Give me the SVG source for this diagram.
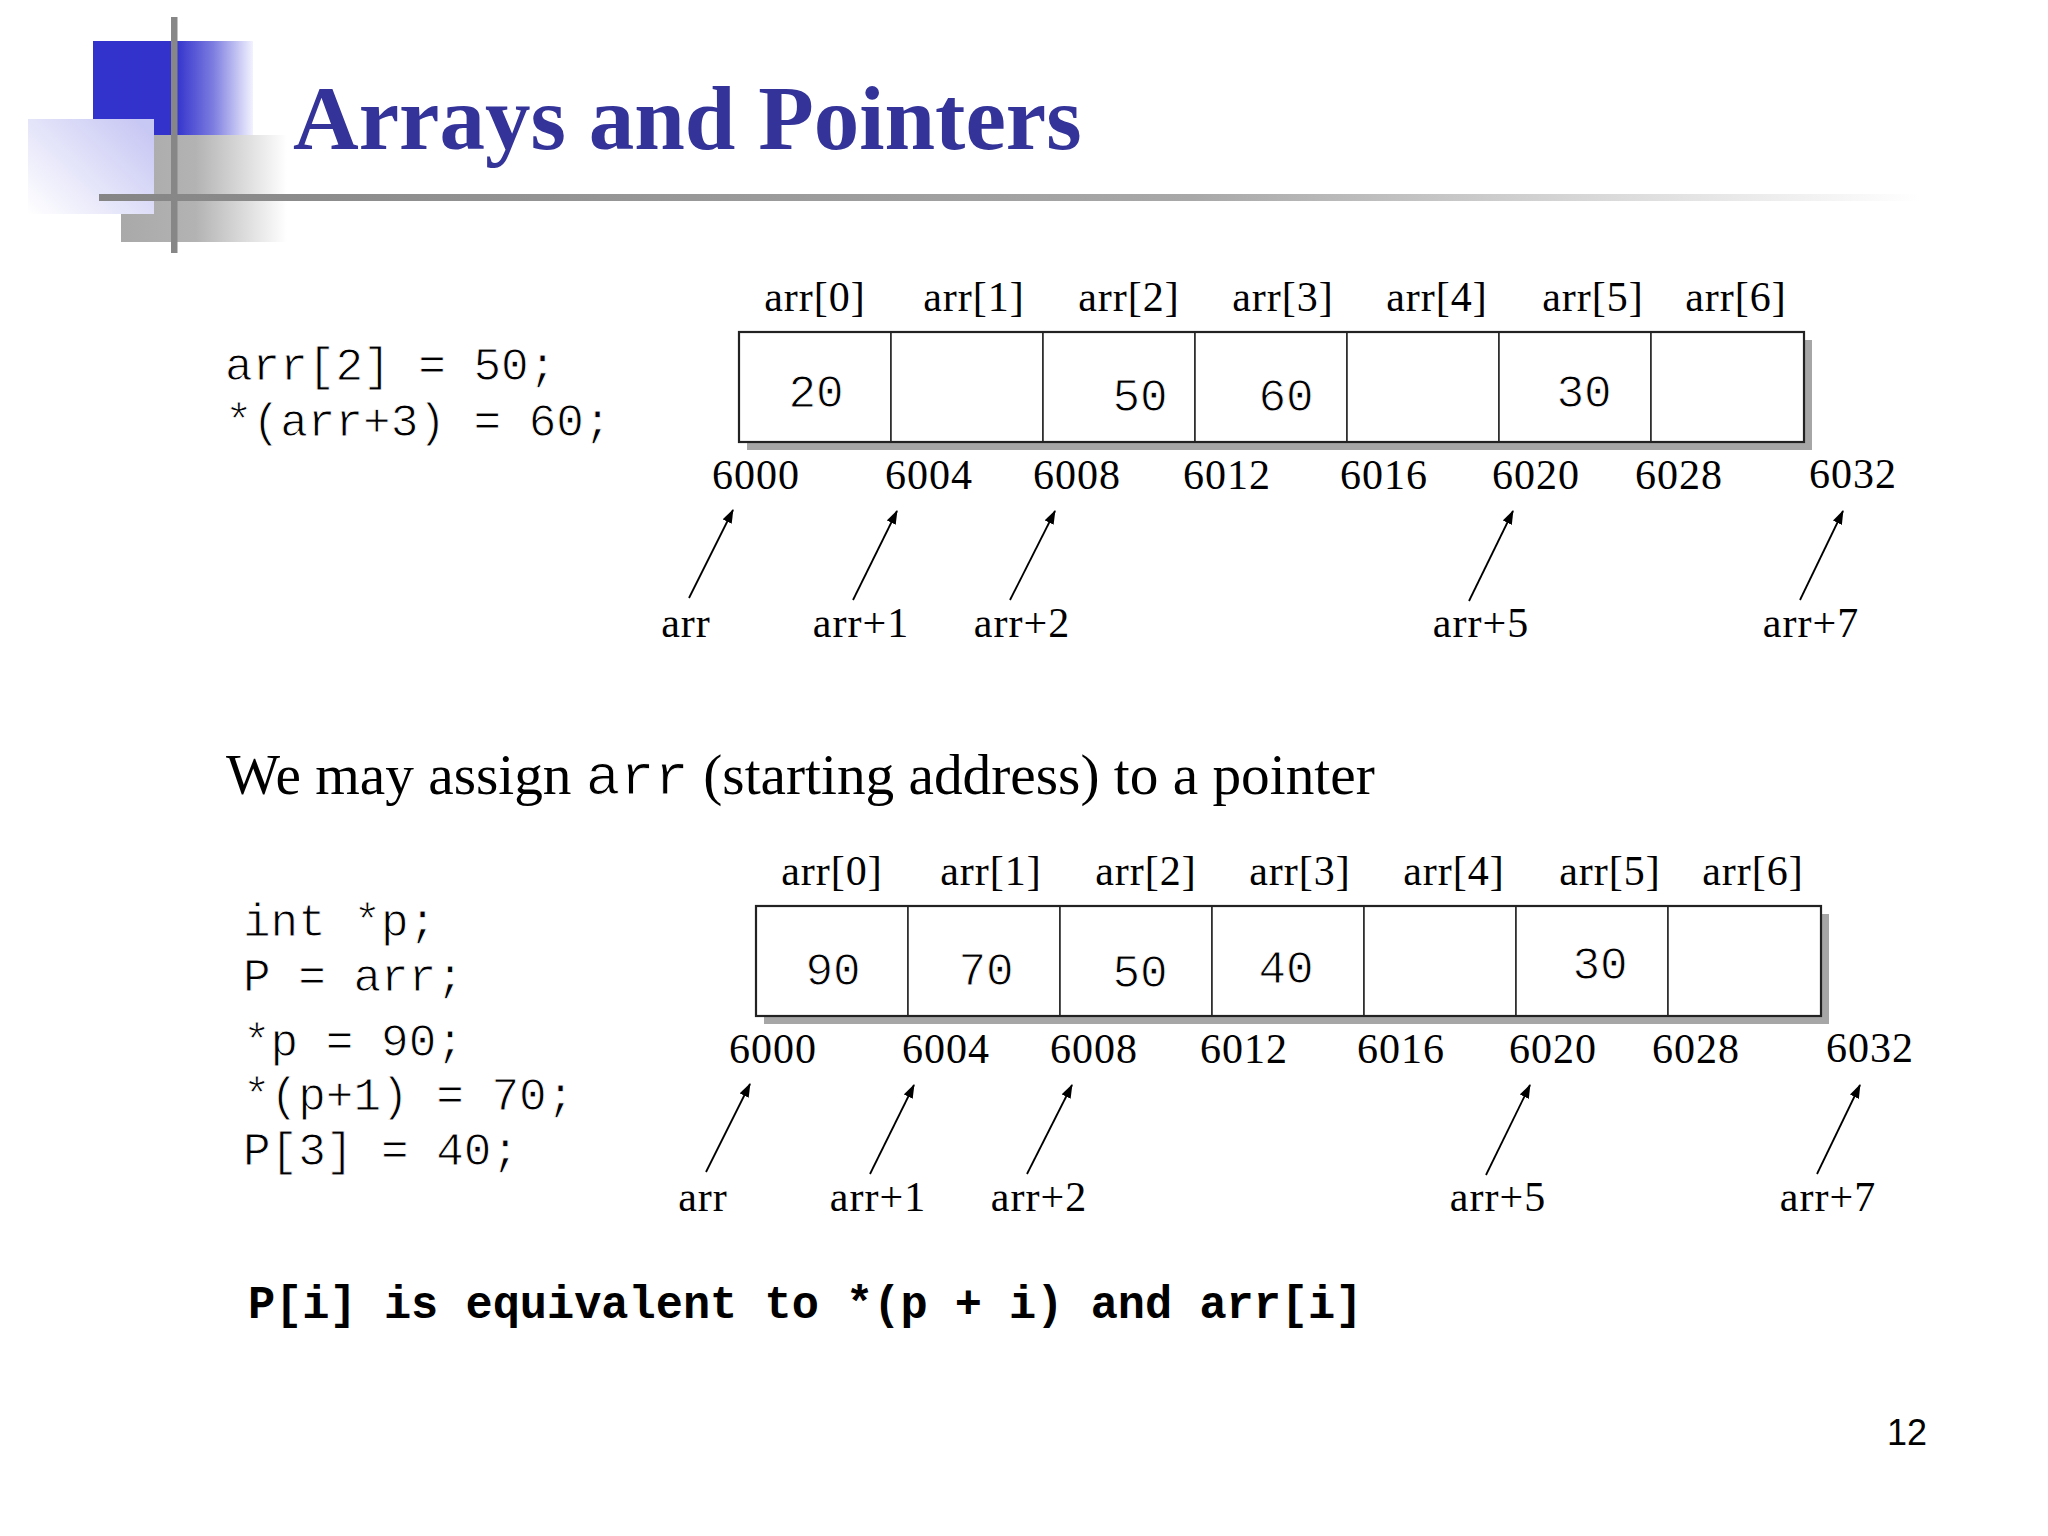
<svg xmlns="http://www.w3.org/2000/svg" width="2048" height="1536" viewBox="0 0 2048 1536">
<defs>
<linearGradient id="gBlue" x1="0" y1="0" x2="1" y2="0">
<stop offset="0" stop-color="#3232cc"/>
<stop offset="0.52" stop-color="#3333cc"/>
<stop offset="0.75" stop-color="#7c7ce0"/>
<stop offset="1" stop-color="#f2f2ff"/>
</linearGradient>
<linearGradient id="gGray" x1="0" y1="0" x2="1" y2="0">
<stop offset="0" stop-color="#a9a9a9"/>
<stop offset="0.45" stop-color="#b3b3b3"/>
<stop offset="1" stop-color="#ffffff"/>
</linearGradient>
<linearGradient id="gLav" x1="1" y1="0.2" x2="0" y2="1">
<stop offset="0" stop-color="#c8c8f4"/>
<stop offset="1" stop-color="#ffffff"/>
</linearGradient>
<linearGradient id="gLine" x1="0" y1="0" x2="1" y2="0">
<stop offset="0" stop-color="#858585"/>
<stop offset="0.6" stop-color="#a8a8a8"/>
<stop offset="1" stop-color="#ffffff"/>
</linearGradient>
<marker id="ah" viewBox="0 0 14 10" refX="13" refY="5" markerWidth="14" markerHeight="10" markerUnits="userSpaceOnUse" orient="auto">
<path d="M0,0 L14,5 L0,10 z" fill="#000"/>
</marker>
</defs>
<style>
.title{font-family:"Liberation Serif","Times New Roman",serif;font-weight:bold;font-size:91px;fill:#333399}
.code{font-family:"Liberation Mono","Courier New",monospace;font-size:46px;fill:#000;stroke:#fff;stroke-width:0.9px}
.val{font-family:"Liberation Mono","Courier New",monospace;font-size:46px;fill:#000;stroke:#fff;stroke-width:0.9px;text-anchor:middle}
.lbl{font-family:"Liberation Serif","Times New Roman",serif;font-size:42px;fill:#000;text-anchor:middle;letter-spacing:1px}
.sent{font-family:"Liberation Serif","Times New Roman",serif;font-size:57.3px;fill:#000}
.sentm{font-family:"Liberation Mono","Courier New",monospace;fill:#000;stroke:#fff;stroke-width:0.9px}
.bold{font-family:"Liberation Mono","Courier New",monospace;font-weight:bold;font-size:45.3px;fill:#000}
.pg{font-family:"Liberation Sans",Arial,sans-serif;font-size:36px;fill:#000}
.shadow{fill:#a6a6a6}
.cell{fill:#fff;stroke:#222;stroke-width:1.5}
.outer{fill:none;stroke:#222;stroke-width:2.2}
.arrow{stroke:#000;stroke-width:1.8;fill:none;marker-end:url(#ah)}
</style>
<rect width="2048" height="1536" fill="#fff"/>

<g id="logo">
<rect x="93" y="41" width="160" height="95" fill="url(#gBlue)"/>
<rect x="121" y="135" width="166" height="107" fill="url(#gGray)"/>
<rect x="28" y="119" width="126" height="95" fill="url(#gLav)"/>
<rect x="171" y="17" width="6.5" height="236" fill="#878787"/>
<rect x="99" y="194" width="1821" height="7" fill="url(#gLine)"/>
</g>

<g id="title">
<text class="title" x="293" y="149">Arrays and Pointers</text>
</g>

<g id="code1">
<text class="code" x="225" y="380" xml:space="preserve">arr[2] = 50;</text>
<text class="code" x="225" y="436" xml:space="preserve">*(arr+3) = 60;</text>
</g>

<g id="array1">
<rect class="shadow" x="747" y="340" width="1065" height="110"/>
<rect class="cell" x="739" y="332" width="152" height="110"/>
<rect class="cell" x="891" y="332" width="152" height="110"/>
<rect class="cell" x="1043" y="332" width="152" height="110"/>
<rect class="cell" x="1195" y="332" width="152" height="110"/>
<rect class="cell" x="1347" y="332" width="152" height="110"/>
<rect class="cell" x="1499" y="332" width="152" height="110"/>
<rect class="cell" x="1651" y="332" width="153" height="110"/>
<rect class="outer" x="739" y="332" width="1065" height="110"/>
<text class="val" x="816" y="407">20</text>
<text class="val" x="1140" y="411">50</text>
<text class="val" x="1286" y="411">60</text>
<text class="val" x="1584" y="407">30</text>
</g>

<g id="headers1">
<text class="lbl" x="815" y="311">arr[0]</text>
<text class="lbl" x="974" y="311">arr[1]</text>
<text class="lbl" x="1129" y="311">arr[2]</text>
<text class="lbl" x="1283" y="311">arr[3]</text>
<text class="lbl" x="1437" y="311">arr[4]</text>
<text class="lbl" x="1593" y="311">arr[5]</text>
<text class="lbl" x="1736" y="311">arr[6]</text>
</g>

<g id="addresses1">
<text class="lbl" x="756" y="489">6000</text>
<text class="lbl" x="929" y="489">6004</text>
<text class="lbl" x="1077" y="489">6008</text>
<text class="lbl" x="1227" y="489">6012</text>
<text class="lbl" x="1384" y="489">6016</text>
<text class="lbl" x="1536" y="489">6020</text>
<text class="lbl" x="1679" y="489">6028</text>
<text class="lbl" x="1853" y="488">6032</text>
</g>

<g id="pointers1">
<text class="lbl" x="686" y="637">arr</text>
<text class="lbl" x="861" y="637">arr+1</text>
<text class="lbl" x="1022" y="637">arr+2</text>
<text class="lbl" x="1481" y="637">arr+5</text>
<text class="lbl" x="1811" y="637">arr+7</text>
</g>

<g id="sentence">
<text class="sent" x="226" y="794" xml:space="preserve">We may assign <tspan class="sentm">arr</tspan> (starting address) to a pointer</text>
</g>

<g id="code2">
<text class="code" x="243" y="936" xml:space="preserve">int *p;</text>
<text class="code" x="243" y="991" xml:space="preserve">P = arr;</text>
<text class="code" x="243" y="1056" xml:space="preserve">*p = 90;</text>
<text class="code" x="243" y="1110" xml:space="preserve">*(p+1) = 70;</text>
<text class="code" x="243" y="1165" xml:space="preserve">P[3] = 40;</text>
</g>

<g id="array2">
<rect class="shadow" x="764" y="914" width="1065" height="110"/>
<rect class="cell" x="756" y="906" width="152" height="110"/>
<rect class="cell" x="908" y="906" width="152" height="110"/>
<rect class="cell" x="1060" y="906" width="152" height="110"/>
<rect class="cell" x="1212" y="906" width="152" height="110"/>
<rect class="cell" x="1364" y="906" width="152" height="110"/>
<rect class="cell" x="1516" y="906" width="152" height="110"/>
<rect class="cell" x="1668" y="906" width="153" height="110"/>
<rect class="outer" x="756" y="906" width="1065" height="110"/>
<text class="val" x="833" y="985">90</text>
<text class="val" x="986" y="985">70</text>
<text class="val" x="1140" y="987">50</text>
<text class="val" x="1286" y="983">40</text>
<text class="val" x="1600" y="979">30</text>
</g>

<g id="headers2">
<text class="lbl" x="832" y="885">arr[0]</text>
<text class="lbl" x="991" y="885">arr[1]</text>
<text class="lbl" x="1146" y="885">arr[2]</text>
<text class="lbl" x="1300" y="885">arr[3]</text>
<text class="lbl" x="1454" y="885">arr[4]</text>
<text class="lbl" x="1610" y="885">arr[5]</text>
<text class="lbl" x="1753" y="885">arr[6]</text>
</g>

<g id="addresses2">
<text class="lbl" x="773" y="1063">6000</text>
<text class="lbl" x="946" y="1063">6004</text>
<text class="lbl" x="1094" y="1063">6008</text>
<text class="lbl" x="1244" y="1063">6012</text>
<text class="lbl" x="1401" y="1063">6016</text>
<text class="lbl" x="1553" y="1063">6020</text>
<text class="lbl" x="1696" y="1063">6028</text>
<text class="lbl" x="1870" y="1062">6032</text>
</g>

<g id="pointers2">
<text class="lbl" x="703" y="1211">arr</text>
<text class="lbl" x="878" y="1211">arr+1</text>
<text class="lbl" x="1039" y="1211">arr+2</text>
<text class="lbl" x="1498" y="1211">arr+5</text>
<text class="lbl" x="1828" y="1211">arr+7</text>
</g>

<g id="connectors">
<line class="arrow" x1="689" y1="598" x2="733" y2="510"/>
<line class="arrow" x1="853" y1="600" x2="897" y2="511"/>
<line class="arrow" x1="1010" y1="600" x2="1055" y2="511"/>
<line class="arrow" x1="1469" y1="601" x2="1513" y2="511"/>
<line class="arrow" x1="1800" y1="600" x2="1843" y2="511"/>
<line class="arrow" x1="706" y1="1172" x2="750" y2="1084"/>
<line class="arrow" x1="870" y1="1174" x2="914" y2="1085"/>
<line class="arrow" x1="1027" y1="1174" x2="1072" y2="1085"/>
<line class="arrow" x1="1486" y1="1175" x2="1530" y2="1085"/>
<line class="arrow" x1="1817" y1="1174" x2="1860" y2="1085"/>
</g>

<g id="statement">
<text class="bold" x="248" y="1318" xml:space="preserve">P[i] is equivalent to *(p + i) and arr[i]</text>
</g>

<g id="pagenum">
<text class="pg" x="1887" y="1445">12</text>
</g>
</svg>
